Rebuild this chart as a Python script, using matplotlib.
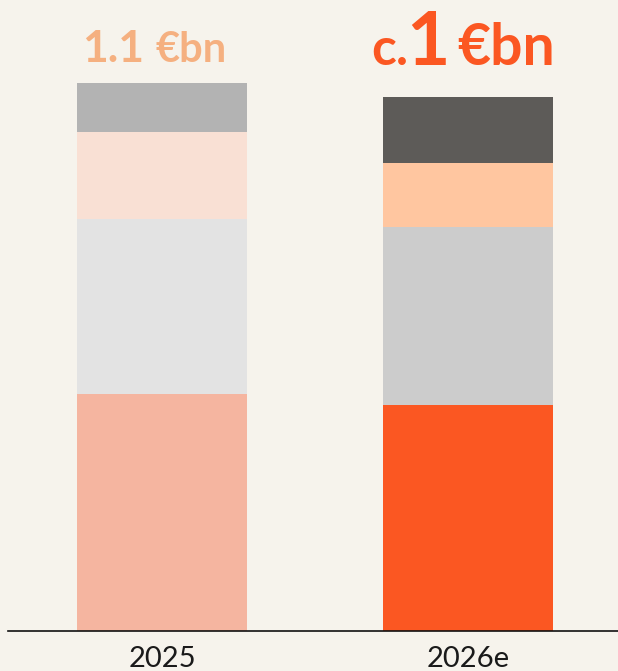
import matplotlib
matplotlib.use("Agg")
import matplotlib.pyplot as plt
import numpy as np

categories = ["2025", "2026e"]
# stacked segment values (€bn), bottom to top
seg1 = [0.476, 0.454]
seg2 = [0.351, 0.357]
seg3 = [0.175, 0.129]
seg4 = [0.098, 0.133]
colors_2025 = ["#f5b5a0", "#e3e3e3", "#f9e0d4", "#b3b3b3"]
colors_2026 = ["#fb5722", "#cccccc", "#ffc6a0", "#5d5b58"]

bg = "#f6f3ec"
plt.rcParams['font.family'] = ['Lato', 'DejaVu Sans']

fig = plt.figure(figsize=(6.18, 6.71), dpi=100, facecolor=bg)
ax = fig.add_axes([8/618, 40/671, 610/618, 631/671])
ax.set_facecolor(bg)

x = np.arange(len(categories))
segs = [seg1, seg2, seg3, seg4]
bottom = np.zeros(len(categories))
for i, s in enumerate(segs):
    cols = [colors_2025[i], colors_2026[i]]
    ax.bar(x, s, width=0.556, bottom=bottom, color=cols, linewidth=0)
    bottom += np.array(s)

ax.set_xlim(-0.503, 1.490)
ax.set_ylim(0, 1.267)
for sp in ["top", "left", "right"]:
    ax.spines[sp].set_visible(False)
ax.spines["bottom"].set_linewidth(1.2)
ax.spines["bottom"].set_color("#111111")
ax.set_yticks([])
ax.set_xticks(x)
ax.set_xticklabels(categories, fontsize=21, color="#1a1a1a")
ax.tick_params(axis="x", length=0, pad=10.5)

c1 = "#f5b080"
c2 = "#fb5722"
# Title bar 1
y1 = 1.143
ax.annotate("1.1", xy=(x[0], y1), xytext=(-18, 0), textcoords="offset pixels",
            ha="right", va="baseline", fontsize=32, fontweight="bold", color=c1)
ax.annotate("€bn", xy=(x[0], y1), xytext=(-6, 0), textcoords="offset pixels",
            ha="left", va="baseline", fontsize=30, fontweight="bold", color=c1)
# Title bar 2
y2 = 1.137
ax.annotate("c.", xy=(x[1], y2), xytext=(-60, 0), textcoords="offset pixels",
            ha="right", va="baseline", fontsize=37, fontweight="bold", color=c2)
ax.annotate("1", xy=(x[1], y2), xytext=(-40, 0), textcoords="offset pixels",
            ha="center", va="baseline", fontsize=54, fontweight="bold", color=c2)
ax.annotate("€bn", xy=(x[1], y2), xytext=(-11, 0), textcoords="offset pixels",
            ha="left", va="baseline", fontsize=41, fontweight="bold", color=c2)

fig.savefig("out.png", dpi=100, facecolor=bg)
